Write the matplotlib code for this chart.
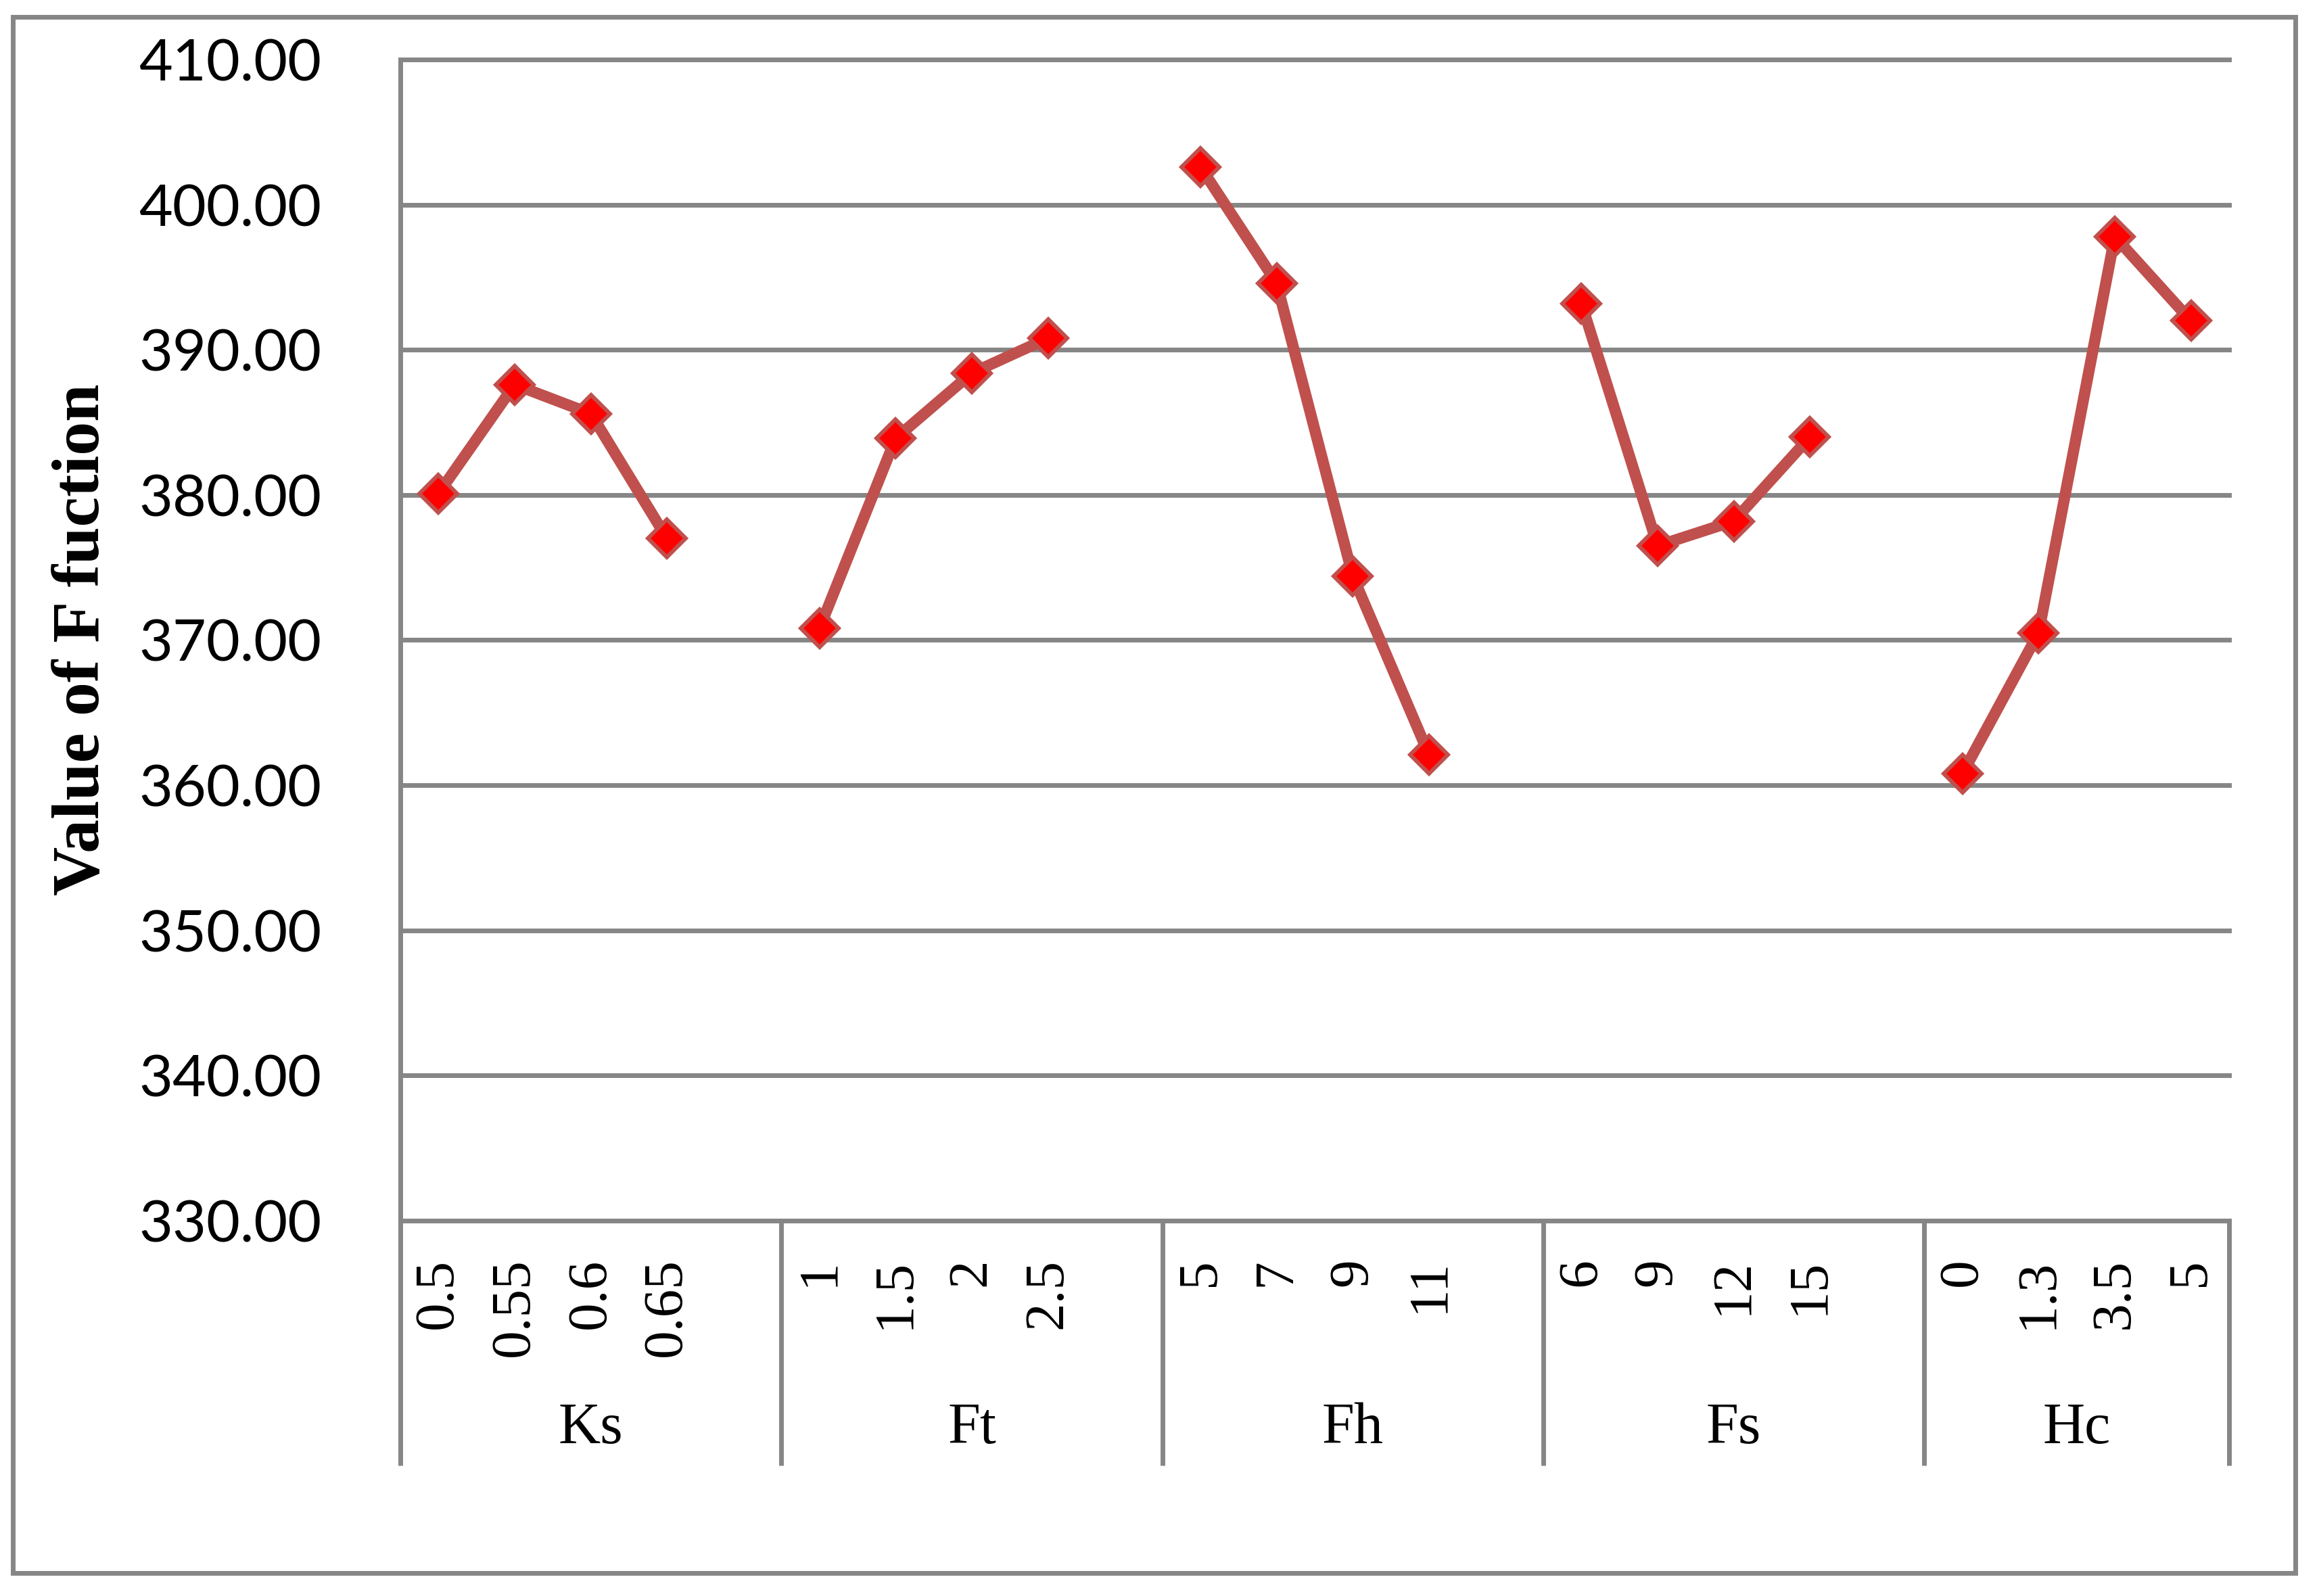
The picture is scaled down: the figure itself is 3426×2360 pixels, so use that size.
import numpy as np
import matplotlib
matplotlib.use("Agg")
import matplotlib.pyplot as plt
from matplotlib.patches import Rectangle

# ---- data ----
groups = ["Ks", "Ft", "Fh", "Fs", "Hc"]
levels = [
    ["0.5", "0.55", "0.6", "0.65"],
    ["1", "1.5", "2", "2.5"],
    ["5", "7", "9", "11"],
    ["6", "9", "12", "15"],
    ["0", "1.3", "3.5", "5"],
]
values = [
    [380.1, 387.6, 385.6, 377.0],
    [370.8, 383.9, 388.4, 390.8],
    [402.6, 394.6, 374.4, 362.1],
    [393.2, 376.5, 378.2, 384.0],
    [360.8, 370.5, 397.8, 392.0],
]
y_ticks = [330, 340, 350, 360, 370, 380, 390, 400, 410]
y_label = "Value of F fuction"

GRAY = "#868686"
LINE = "#C0504D"
MARK = "#FF0000"

W, H = 3426, 2360
fig = plt.figure(figsize=(W / 100, H / 100), dpi=100)

# outer border
fig.patches.append(Rectangle((19 / W, 1 - 2326 / H), (3394 - 19) / W, (2326 - 25) / H,
                             transform=fig.transFigure, fill=False, edgecolor=GRAY, lw=5))

ax_left, ax_right = 592, 3296
ax_top, ax_bot = 88, 1805
ax = fig.add_axes([ax_left / W, 1 - ax_bot / H, (ax_right - ax_left) / W, (ax_bot - ax_top) / H])

# build x positions with a blank category after each group except last
xs, ys, labels = [], [], []
pos = 0
group_bounds = []
for gi, (g, lv, vals) in enumerate(zip(groups, levels, values)):
    start = pos
    for l, v in zip(lv, vals):
        xs.append(pos); ys.append(v); labels.append(l)
        pos += 1
    if gi < len(groups) - 1:
        xs.append(pos); ys.append(np.nan); labels.append("")
        pos += 1
    group_bounds.append((start - 0.5, pos - 0.5))
n = pos

ax.plot(xs, ys, color=LINE, lw=12, zorder=3, solid_joinstyle="round", solid_capstyle="butt")
ax.plot(xs, ys, linestyle="none", marker="D", markersize=29, markerfacecolor=MARK,
        markeredgecolor=LINE, markeredgewidth=4.2, zorder=4)

ax.set_xlim(-0.5, n - 0.5)
ax.set_ylim(y_ticks[0], y_ticks[-1])
for s in ax.spines.values():
    s.set_visible(False)

for yv in y_ticks:
    ax.axhline(yv, color=GRAY, lw=5, zorder=1, clip_on=False)

ax.set_yticks(y_ticks)
ax.set_yticklabels([f"{t:.2f}" for t in y_ticks], fontfamily="Lato", fontsize=62)
ax.tick_params(axis="y", length=0, pad=84)

ax.set_xticks(xs)
ax.set_xticklabels(labels, rotation=90, fontfamily="Liberation Serif", fontsize=60, va="top", ha="center")
ax.tick_params(axis="x", length=0, pad=40)

# category separators below axis
depth = (2167 - ax_bot) / (ax_bot - ax_top)
trans = ax.get_xaxis_transform()
bounds = sorted(set([b for gb in group_bounds for b in gb]))
for b in bounds:
    top = 1.0 if b == bounds[0] else 0.0
    ax.plot([b, b], [top, -depth], color=GRAY, lw=5, transform=trans, clip_on=False, zorder=1,
            solid_capstyle="butt")

# group labels
label_y = -(2113 - ax_bot) / (ax_bot - ax_top)
for g, (a, b) in zip(groups, group_bounds):
    ax.text((a + b) / 2, label_y, g, transform=trans, ha="center", va="center",
            fontfamily="Liberation Serif", fontsize=62)

fig.text(122 / W, 1 - 946 / H, y_label, rotation=90, ha="center", va="center",
         fontfamily="Liberation Serif", fontweight="bold", fontsize=72)

fig.savefig("out.png", dpi=100, facecolor="white")
